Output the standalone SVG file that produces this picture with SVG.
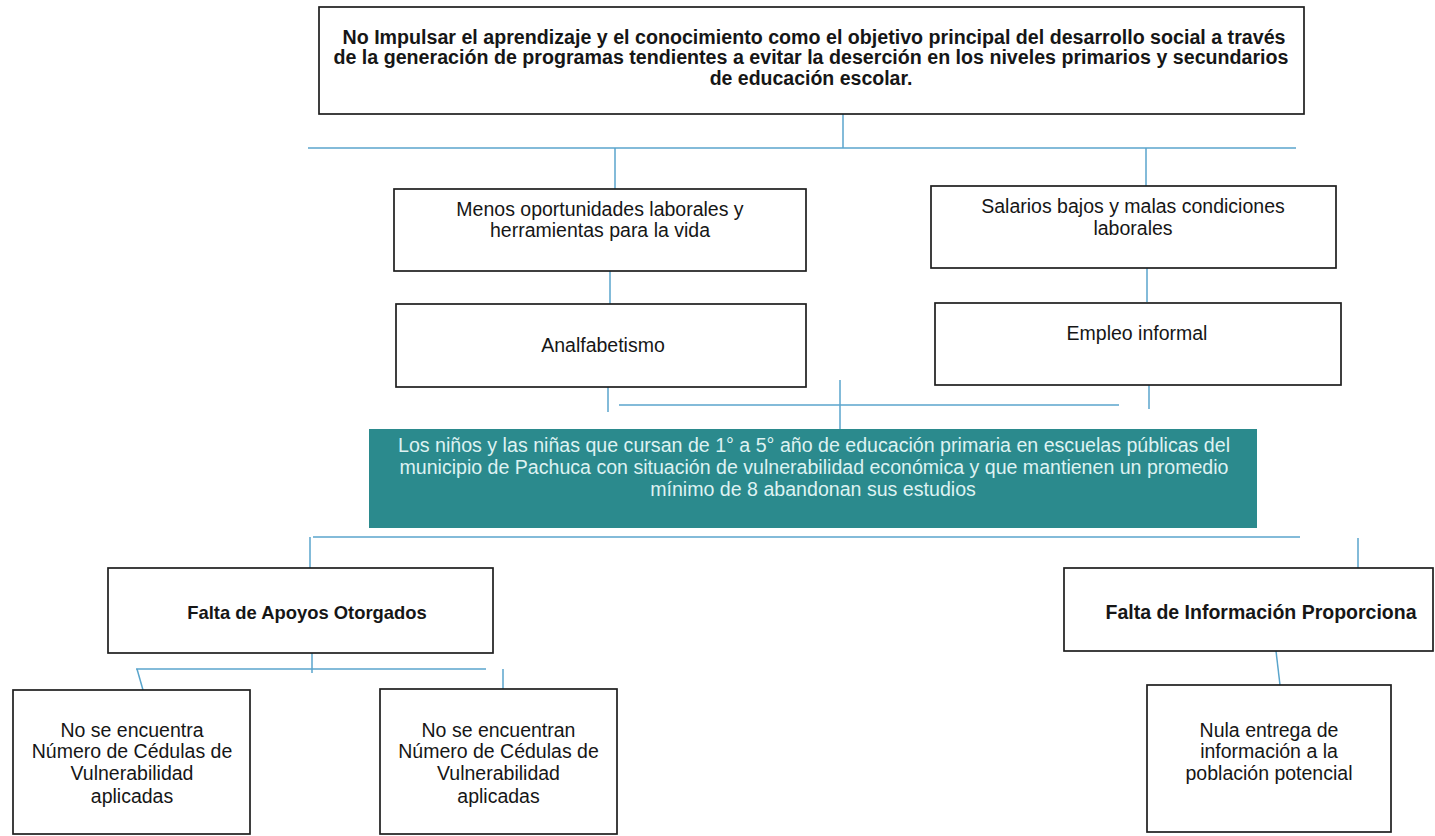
<svg xmlns="http://www.w3.org/2000/svg" width="1435" height="836" viewBox="0 0 1435 836">
<style>
.box{fill:#fff;stroke:#1e1e1e;stroke-width:1.7}
.teal{fill:#2b8a8d;stroke:none}
.t{font-family:"Liberation Sans",Arial,sans-serif;font-size:19.5px;fill:#161616;text-anchor:middle}
.b{font-weight:bold}
.w{fill:#def2f2;font-size:19.6px}
.c line{stroke:#5aa5cc;stroke-width:1.5;fill:none}
</style>
<rect width="1435" height="836" fill="#fff"/>
<g class="c" id="connectors">
<line x1="843" y1="114" x2="843" y2="148"/>
<line x1="308" y1="148" x2="1296" y2="148"/>
<line x1="615" y1="148" x2="615" y2="189"/>
<line x1="1146" y1="148" x2="1146" y2="186"/>
<line x1="610" y1="271" x2="610" y2="304"/>
<line x1="1147" y1="268" x2="1147" y2="302"/>
<line x1="608" y1="382" x2="608" y2="412"/>
<line x1="1149" y1="380" x2="1149" y2="409"/>
<line x1="619" y1="405" x2="1119" y2="405"/>
<line x1="840" y1="380" x2="840" y2="429"/>
<line x1="313" y1="537" x2="1300" y2="537"/>
<line x1="310" y1="537" x2="310" y2="568"/>
<line x1="1358" y1="538" x2="1358" y2="568"/>
<line x1="312" y1="653" x2="312" y2="673"/>
<line x1="136" y1="669" x2="486" y2="669"/>
<line x1="137" y1="669" x2="143" y2="690"/>
<line x1="503" y1="669" x2="503" y2="689"/>
<line x1="1276" y1="651" x2="1280" y2="685"/>
</g>
<g id="n-top">
<rect class="box" x="319" y="7" width="985" height="107"/>
<text class="t b" x="814" y="44" textLength="943" lengthAdjust="spacingAndGlyphs">No Impulsar el aprendizaje y el conocimiento como el objetivo principal del desarrollo social a través</text>
<text class="t b" x="811" y="64" textLength="955" lengthAdjust="spacingAndGlyphs">de la generación de programas tendientes a evitar la deserción en los niveles primarios y secundarios</text>
<text class="t b" x="811" y="85">de educación escolar.</text>
</g>
<g id="n-menos">
<rect class="box" x="394" y="189" width="412" height="82"/>
<text class="t" x="600" y="216">Menos oportunidades laborales y</text>
<text class="t" x="600" y="237">herramientas para la vida</text>
</g>
<g id="n-salarios">
<rect class="box" x="931" y="186" width="405" height="82"/>
<text class="t" x="1133" y="213">Salarios bajos y malas condiciones</text>
<text class="t" x="1133" y="235">laborales</text>
</g>
<g id="n-analfabetismo">
<rect class="box" x="396" y="304" width="410" height="83"/>
<text class="t" x="603" y="352">Analfabetismo</text>
</g>
<g id="n-empleo">
<rect class="box" x="935" y="303" width="406" height="82"/>
<text class="t" x="1137" y="340">Empleo informal</text>
</g>
<g id="n-problema">
<rect class="teal" x="369" y="429" width="888" height="99"/>
<text class="t w" x="814" y="452" textLength="832" lengthAdjust="spacingAndGlyphs">Los niños y las niñas que cursan de 1° a 5° año de educación primaria en escuelas públicas del</text>
<text class="t w" x="814" y="474" textLength="829" lengthAdjust="spacingAndGlyphs">municipio de Pachuca con situación de vulnerabilidad económica y que mantienen un promedio</text>
<text class="t w" x="813" y="496">mínimo de 8 abandonan sus estudios</text>
</g>
<g id="n-apoyos">
<rect class="box" x="108" y="568" width="385" height="85"/>
<text class="t b" x="307" y="619" style="font-size:18.4px">Falta de Apoyos Otorgados</text>
</g>
<g id="n-informacion">
<rect class="box" x="1064" y="568" width="369" height="83"/>
<text class="t b" x="1261" y="619">Falta de Información Proporciona</text>
</g>
<g id="n-cedulas1">
<rect class="box" x="13" y="690" width="237" height="144"/>
<text class="t" x="132" y="737">No se encuentra</text>
<text class="t" x="132" y="758">Número de Cédulas de</text>
<text class="t" x="132" y="780">Vulnerabilidad</text>
<text class="t" x="132" y="803">aplicadas</text>
</g>
<g id="n-cedulas2">
<rect class="box" x="380" y="689" width="237" height="145"/>
<text class="t" x="498.5" y="737">No se encuentran</text>
<text class="t" x="498.5" y="758">Número de Cédulas de</text>
<text class="t" x="498.5" y="780">Vulnerabilidad</text>
<text class="t" x="498.5" y="803">aplicadas</text>
</g>
<g id="n-nula">
<rect class="box" x="1147" y="685" width="244" height="147"/>
<text class="t" x="1269" y="737">Nula entrega de</text>
<text class="t" x="1269" y="758">información a la</text>
<text class="t" x="1269" y="780">población potencial</text>
</g>
</svg>
